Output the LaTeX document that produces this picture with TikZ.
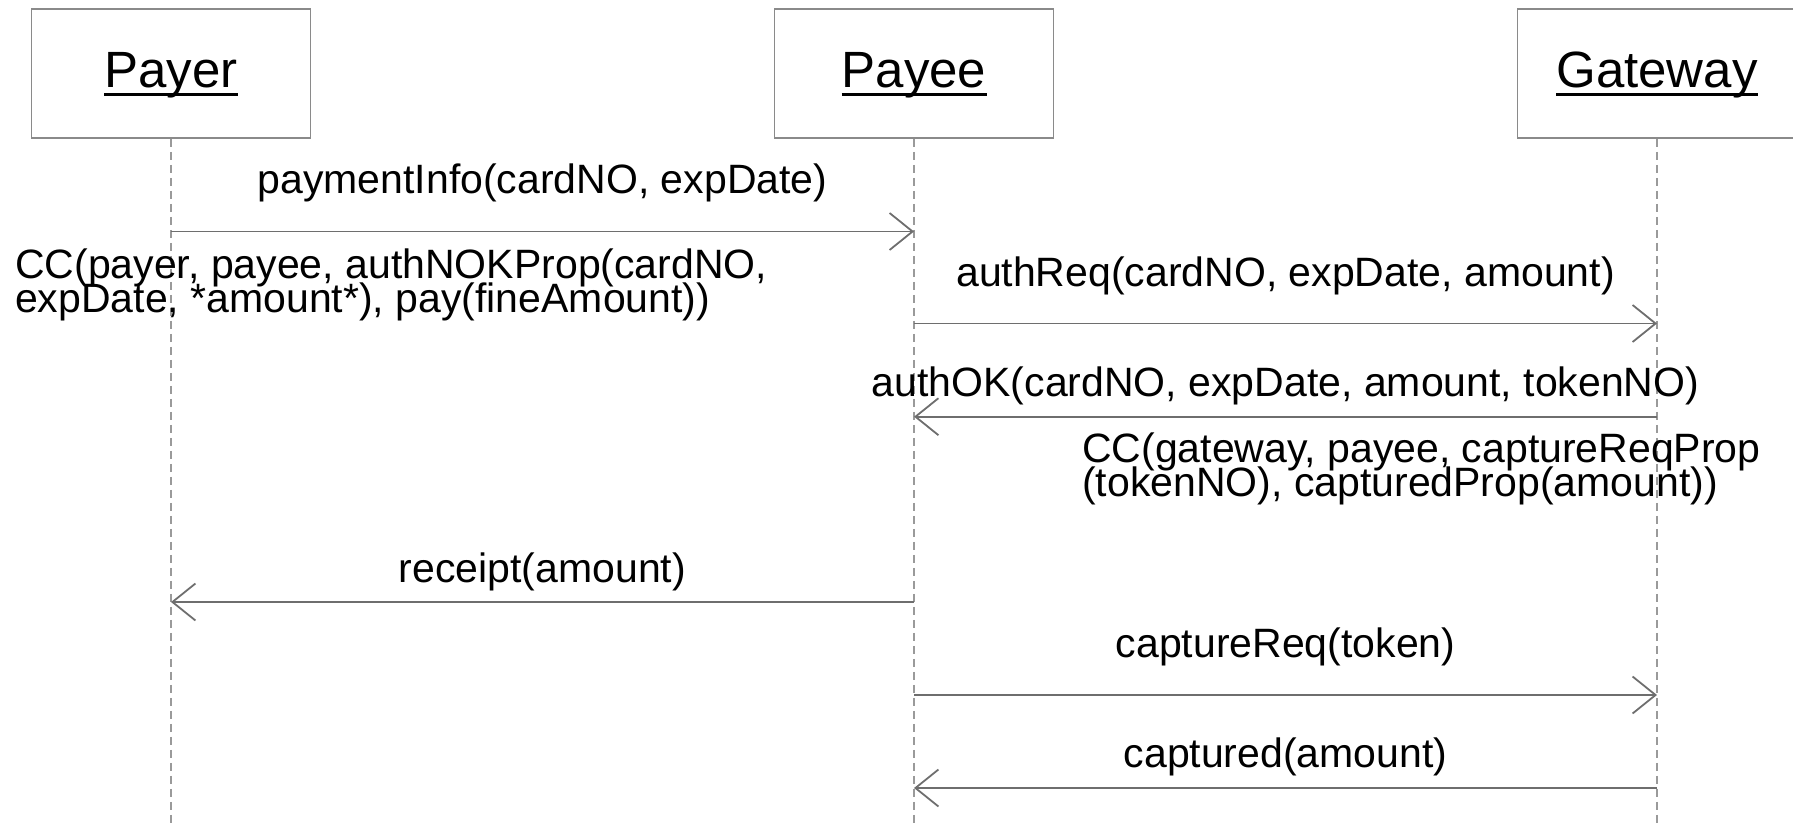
\documentclass[tikz,border=0pt]{standalone}
\usepackage{fontspec}
\setmainfont{Liberation Sans}
\usetikzlibrary{arrows.meta}
\definecolor{boxgray}{HTML}{8A8A8A}
\definecolor{lifegray}{HTML}{9A9A9A}
\definecolor{arrowgray}{HTML}{6E6E6E}
\begin{document}
\begin{tikzpicture}[x=1pt,y=-1pt,
  actor/.style={draw=boxgray, line width=1.5pt, minimum width=279pt,
    minimum height=129pt, inner sep=0pt},
  actortitle/.style={inner sep=0pt, anchor=base, font=\fontsize{51}{60}\selectfont},
  titlerule/.style={line width=2.6pt},
  lifeline/.style={draw=lifegray, line width=1.2pt, dash pattern=on 8pt off 5pt},
  msgarrow/.style={draw=arrowgray, line width=1.8pt, line join=round,
    -{Straight Barb[length=23pt,width=37pt]}},
  msglabel/.style={inner sep=0pt, anchor=base, font=\fontsize{41}{34.5}\selectfont},
  ccnote/.style={inner sep=0pt, anchor=base west, font=\fontsize{41}{34.5}\selectfont},
]
\clip (0,0) rectangle (1793,824);

% actor boxes
\node[actor] (payer)   at (171,73.5)  {};
\node[actor] (payee)   at (914,73.5)  {};
\node[actor] (gateway) at (1657,73.5) {};

% underlined actor names
\node[actortitle] (tpayer)   at (171,88)  {Payer};
\node[actortitle] (tpayee)   at (914,88)  {Payee};
\node[actortitle] (tgateway) at (1657,88) {Gateway};
\foreach \t in {tpayer,tpayee,tgateway}
  \draw[titlerule] ([yshift=-6.3pt]\t.base west) -- ([yshift=-6.3pt]\t.base east);

% lifelines
\coordinate (bottom) at (0,824);
\foreach \a in {payer,payee,gateway}
  \draw[lifeline] (\a.south) -- (\a |- bottom);

% message rows
\coordinate (y1) at (0,231.5);
\coordinate (y2) at (0,323.5);
\coordinate (y3) at (0,416.7);
\coordinate (y4) at (0,602);
\coordinate (y5) at (0,695);
\coordinate (y6) at (0,788);

\draw[msgarrow] (payer |- y1) -- (payee |- y1);
\draw[msgarrow] (payee |- y2) -- (gateway |- y2);
\draw[msgarrow] (gateway |- y3) -- (payee |- y3);
\draw[msgarrow] (payee |- y4) -- (payer |- y4);
\draw[msgarrow] (payee |- y5) -- (gateway |- y5);
\draw[msgarrow] (gateway |- y6) -- (payee |- y6);

% message labels
\node[msglabel] (l1) at (542.5,193)  {paymentInfo(cardNO, expDate)};
\node[msglabel] (l2) at (1285.5,286.5) {authReq(cardNO, expDate, amount)};
\node[msglabel] (l3) at (1285.5,396) {authOK(cardNO, expDate, amount, tokenNO)};
\node[msglabel] (l4) at (542.5,582)  {receipt(amount)};
\node[msglabel] (l5) at (1285.5,657) {captureReq(token)};
\node[msglabel] (l6) at (1285.5,767) {captured(amount)};

% commitments
\node[ccnote] (cc1a) at (15,278)   {CC(payer, payee, authNOKProp(cardNO,};
\node[ccnote] (cc1b) at (15,312.5) {expDate, *amount*), pay(fineAmount))};
\node[ccnote] (cc2a) at (1082,462) {CC(gateway, payee, captureReqProp};
\node[ccnote] (cc2b) at (1082,496) {(tokenNO), capturedProp(amount))};
\end{tikzpicture}
\end{document}
